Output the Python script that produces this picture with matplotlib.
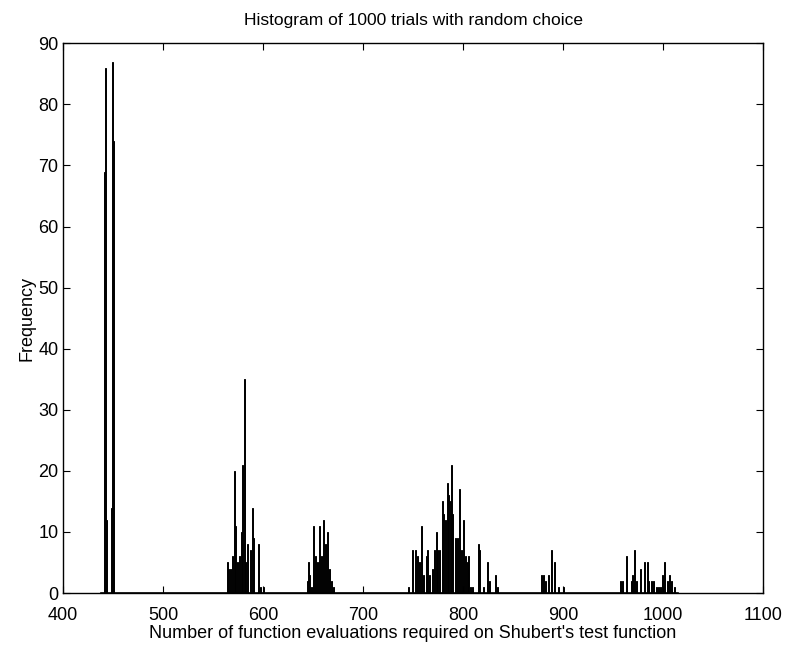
import numpy as np
from matplotlib import pyplot as plt

plt.rcParams['font.family'] = ['Liberation Sans', 'DejaVu Sans']

# Histogram counts (bin centre -> frequency)
evals_a = [441, 442, 443, 448, 449, 450]
freq_a = [69, 86, 12, 14, 87, 74]

evals_b = [564, 565, 567, 569, 571, 572, 574, 576, 578, 579, 581, 582, 584,
           587, 589, 590, 595, 597, 600]
freq_b = [5, 4, 4, 6, 20, 11, 5, 6, 10, 21, 35, 5, 8, 7, 14, 9, 8, 1, 1]

evals_c = [644, 645, 646, 648, 650, 652, 654, 656, 658, 660, 662, 664, 666,
           668, 670]
freq_c = [2, 5, 3, 1, 11, 6, 5, 11, 6, 12, 8, 10, 4, 2, 1]

evals_d = [745, 749, 752, 754, 756, 758, 760, 763, 764, 766, 769, 771, 773,
           774, 776, 779, 780, 782, 784, 785, 787, 788, 789, 792, 794, 796,
           798, 800, 802, 804, 805, 807, 809, 815, 816, 820, 824, 826, 832,
           834]
freq_d = [1, 7, 7, 6, 5, 11, 3, 6, 7, 3, 4, 7, 10, 7, 7, 15, 13, 12, 18, 16,
          15, 21, 13, 9, 9, 17, 7, 12, 6, 5, 6, 1, 1, 8, 7, 1, 5, 2, 3, 1]

evals_e = [878, 880, 882, 885, 888, 891, 895, 900]
freq_e = [3, 3, 2, 3, 7, 5, 1, 1]

evals_f = [958, 960, 964, 969, 970, 972, 974, 978, 982, 985, 986, 989, 991,
           994, 996, 998, 1000, 1002, 1005, 1007, 1009, 1012]
freq_f = [2, 2, 6, 2, 3, 7, 2, 4, 5, 5, 2, 2, 2, 1, 1, 1, 3, 5, 2, 3, 2, 1]

evals = evals_a + evals_b + evals_c + evals_d + evals_e + evals_f
freq = freq_a + freq_b + freq_c + freq_d + freq_e + freq_f

fig = plt.figure(figsize=(7.89, 6.46), dpi=100)
ax = fig.add_axes([0.080, 0.082, 0.887, 0.851])

ax.bar(evals, freq, width=1.0, color='black', edgecolor='black', linewidth=0.7)
# baseline of the empty bins
ax.plot([438, 1015], [0, 0], color='black', lw=1.2)

ax.set_xlim(400, 1100)
ax.set_ylim(0, 90)
ax.set_xticks(np.arange(400, 1101, 100))
ax.set_yticks(np.arange(0, 91, 10))
ax.tick_params(direction='in', top=True, right=True, labelsize=13, length=5)
ax.tick_params(axis='x', pad=10)
for s in ax.spines.values():
    s.set_linewidth(1.0)

ax.set_xlabel("Number of function evaluations required on Shubert's test function",
              fontsize=13, labelpad=1)
ax.set_ylabel('Frequency', fontsize=13, labelpad=2)
ax.set_title('Histogram of 1000 trials with random choice', fontsize=12.5, pad=13)

fig.savefig('out.png', dpi=100)
